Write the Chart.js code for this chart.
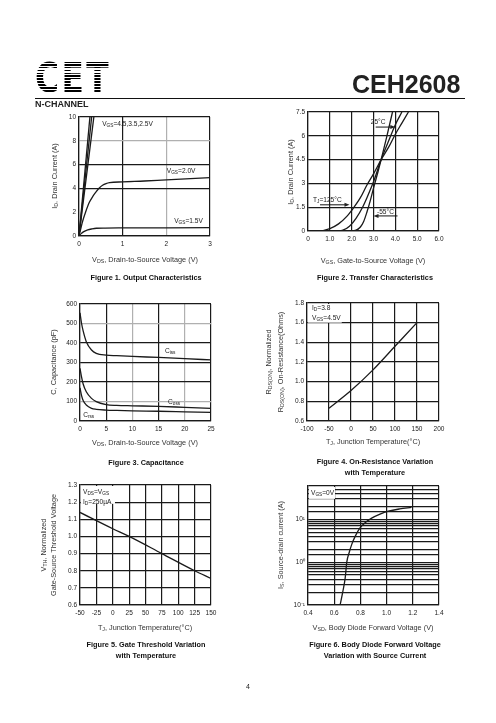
<!DOCTYPE html>
<html>
<head>
<meta charset="utf-8">
<script src="https://cdn.jsdelivr.net/npm/chart.js@4.4.1/dist/chart.umd.min.js"></script>
<style>
body{margin:0;width:496px;height:723px;background:#fff;position:relative;overflow:hidden;font-family:"Liberation Sans",Arial,sans-serif;color:#222;-webkit-font-smoothing:antialiased;filter:grayscale(1)}
.abs{position:absolute;white-space:nowrap}
canvas{position:absolute}
.t{font-size:7.3px;color:#333;transform:translate(-50%,-50%);text-align:center;line-height:9px}
.yt{transform:translate(-50%,-50%) rotate(-90deg)}
.cap{font-size:7.3px;font-weight:bold;transform:translateX(-50%);text-align:center;line-height:11px;color:#111}
sub{font-size:0.72em;vertical-align:-0.2em;line-height:0}
</style>
</head>
<body>

<div class="abs" id="logo" style="left:35px;top:58.3px;font-family:'DejaVu Sans',sans-serif;font-size:41px;font-weight:bold;line-height:1;transform:scaleX(0.8);transform-origin:left top;letter-spacing:3px;color:transparent;background:repeating-linear-gradient(to bottom,#000 0,#000 1.7px,transparent 1.7px,transparent 2.9px);-webkit-background-clip:text;background-clip:text">CET</div>
<div class="abs" style="left:352px;top:72px;font-size:25px;font-weight:bold;line-height:1;color:#222">CEH2608</div>
<div class="abs" style="left:35px;top:97.5px;width:430px;height:1.2px;background:#111"></div>
<div class="abs" style="left:35px;top:100px;font-size:9px;font-weight:bold;line-height:1">N-CHANNEL</div>

<canvas id="c1"></canvas>
<canvas id="c2"></canvas>
<canvas id="c3"></canvas>
<canvas id="c4"></canvas>
<canvas id="c5"></canvas>
<canvas id="c6"></canvas>

<!-- axis titles and captions -->
<div class="abs t yt" style="left:54px;top:176px">I<sub>D</sub>, Drain Current (A)</div>
<div class="abs t" style="left:145px;top:259px">V<sub>DS</sub>, Drain-to-Source Voltage (V)</div>
<div class="abs cap" style="left:146px;top:272px">Figure 1. Output Characteristics</div>

<div class="abs t yt" style="left:290px;top:172px">I<sub>D</sub>, Drain Current (A)</div>
<div class="abs t" style="left:373px;top:260px">V<sub>GS</sub>, Gate-to-Source Voltage (V)</div>
<div class="abs cap" style="left:375px;top:272px">Figure 2. Transfer Characteristics</div>

<div class="abs t yt" style="left:53px;top:362px">C, Capacitance (pF)</div>
<div class="abs t" style="left:145px;top:442px">V<sub>DS</sub>, Drain-to-Source Voltage (V)</div>
<div class="abs cap" style="left:146px;top:457px">Figure 3. Capacitance</div>

<div class="abs t yt" style="left:275px;top:362px;line-height:12px">R<sub>DS(ON)</sub>, Normalized<br>R<sub>DS(ON)</sub>, On-Resistance(Ohms)</div>
<div class="abs t" style="left:373px;top:441px">T<sub>J</sub>, Junction Temperature(°C)</div>
<div class="abs cap" style="left:375px;top:456px">Figure 4. On-Resistance Variation<br>with Temperature</div>

<div class="abs t yt" style="left:48.5px;top:545px;line-height:10px">V<sub>TH</sub>, Normalized<br>Gate-Source Threshold Voltage</div>
<div class="abs t" style="left:145px;top:627px">T<sub>J</sub>, Junction Temperature(°C)</div>
<div class="abs cap" style="left:146px;top:639px">Figure 5. Gate Threshold Variation<br>with Temperature</div>

<div class="abs t yt" style="left:280px;top:545px">I<sub>S</sub>, Source-drain current (A)</div>
<div class="abs t" style="left:373px;top:627px">V<sub>SD</sub>, Body Diode Forward Voltage (V)</div>
<div class="abs cap" style="left:375px;top:639px">Figure 6. Body Diode Forward Voltage<br>Variation with Source Current</div>

<div class="abs" style="left:248px;top:683px;font-size:7px;transform:translateX(-50%)">4</div>

<script>
// ---- Figure 1: output characteristics (VDS V / ID A)
const out45X = [0, 0.25], out45Y = [0, 10];
const out35X = [0, 0.29], out35Y = [0, 10];
const out25X = [0, 0.34], out25Y = [0, 10];
const out20X = [0, 0.04, 0.08, 0.15, 0.24, 0.32, 0.39, 0.47, 0.54, 0.62, 0.7, 1, 1.5, 2, 3];
const out20Y = [0, 0.6, 1.2, 2.0, 2.85, 3.35, 3.7, 4.05, 4.26, 4.4, 4.48, 4.55, 4.62, 4.72, 4.9];
const out15X = [0, 0.05, 0.1, 0.2, 0.3, 0.4, 0.6, 1, 2, 3];
const out15Y = [0, 0.2, 0.35, 0.52, 0.6, 0.65, 0.67, 0.68, 0.69, 0.7];

// ---- Figure 2: transfer characteristics (VGS V / ID A)
const tr125X = [0.6, 1.0, 1.4, 1.8, 2.0, 2.4, 2.7, 3.0, 3.35, 3.7, 4.0, 4.3, 4.6];
const tr125Y = [0, 0.15, 0.45, 0.95, 1.3, 2.1, 2.9, 3.6, 4.5, 5.3, 6.1, 6.8, 7.5];
const tr25X = [1.3, 1.6, 1.9, 2.2, 2.5, 2.7, 3.0, 3.35, 3.7, 4.0, 4.3];
const tr25Y = [0, 0.05, 0.3, 0.8, 1.5, 2.1, 3.1, 4.5, 5.7, 6.7, 7.5];
const trM55X = [1.9, 2.2, 2.4, 2.55, 2.7, 2.85, 3.0, 3.2, 3.35, 3.6, 3.87];
const trM55Y = [0, 0.05, 0.25, 0.6, 1.2, 1.9, 2.7, 3.7, 4.5, 5.9, 7.5];

// ---- Figure 3: capacitance (VDS V / pF)
const capX = [0, 0.3, 0.6, 1.2, 2.2, 3.1, 5, 7, 10, 15, 20, 25];
const cissY = [555, 500, 462, 407, 364, 347, 338, 335, 331, 326, 320, 313];
const cossY = [270, 225, 190, 150, 116, 99, 84, 80, 78, 75, 70, 65];
const crssY = [170, 130, 105, 82, 65, 60, 56, 54, 52, 50, 47, 44];

// ---- Figure 4: on-resistance vs temperature
const rdsT = [-50, 0, 50, 100, 150];
const rdsY = [0.73, 0.91, 1.12, 1.36, 1.6];

// ---- Figure 5: threshold vs temperature
const vthT = [-50, 0, 25, 75, 125, 150];
const vthY = [1.14, 1.045, 1.0, 0.9, 0.8, 0.755];

// ---- Figure 6: body diode (VSD V / IS A)
const diodeX = [0.645, 0.665, 0.684, 0.696, 0.715, 0.734, 0.76, 0.797, 0.84, 0.886, 0.95, 1.013, 1.1, 1.19];
const diodeY = [0.1, 0.2, 0.43, 1.0, 1.7, 2.6, 4.0, 6.3, 8.5, 10.7, 13.3, 15.5, 17.5, 19];

// labels drawn inside the plots, data coordinates
const notes1 = [
  {x: 0.53, y: 9.41, t: [['V'], ['GS', 1], ['=4.5,3.5,2.5V']]},
  {x: 2.01, y: 5.46, t: [['V'], ['GS', 1], ['=2.0V']]},
  {x: 2.18, y: 1.26, t: [['V'], ['GS', 1], ['=1.5V']]}
];
const notes2 = [
  {x: 3.21, y: 6.89, t: [['25°C']], align: 'center', arrow: [[3.1, 6.55], [4.0, 6.55]]},
  {x: 0.23, y: 1.97, t: [['T'], ['J', 1], ['=125°C']], arrow: [[0.55, 1.65], [1.9, 1.65]]},
  {x: 3.16, y: 1.21, t: [['-55°C']], arrow: [[4.1, 0.95], [3.0, 0.95]]}
];
const notes3 = [
  {x: 16.2, y: 359, t: [['C'], ['iss', 1]]},
  {x: 16.8, y: 97, t: [['C'], ['oss', 1]]},
  {x: 0.6, y: 31, t: [['C'], ['rss', 1]]}
];
const notes4 = [
  {x: -88.6, y: 1.75, t: [['I'], ['D', 1], ['=3.8']]},
  {x: -88.6, y: 1.647, t: [['V'], ['GS', 1], ['=4.5V']]}
];
const notes5 = [
  {x: -45.4, y: 1.26, t: [['V'], ['DS', 1], ['=V'], ['GS', 1]]},
  {x: -45.4, y: 1.2, t: [['I'], ['D', 1], ['=250µA']]}
];
const notes6 = [
  {x: 0.423, y: 40, t: [['V'], ['GS', 1], ['=0V']]}
];

const FONT = '"Liberation Sans", Arial, sans-serif';
const INK = '#1a1a1a';

function pts(xs, ys) { return xs.map((x, i) => ({x: x, y: ys[i]})); }

function drawRich(ctx, parts, x, y, size, align) {
  let w = 0;
  parts.forEach(p => {
    ctx.font = (p[1] ? size * 0.72 : size) + 'px ' + FONT;
    w += ctx.measureText(p[0]).width;
  });
  if (align === 'center') x -= w / 2;
  parts.forEach(p => {
    ctx.font = (p[1] ? size * 0.72 : size) + 'px ' + FONT;
    ctx.fillText(p[0], x, p[1] ? y + size * 0.22 : y);
    x += ctx.measureText(p[0]).width;
  });
}

const notesPlugin = {
  id: 'notes',
  beforeDatasetsDraw(chart, args, opts) {
    const {ctx, chartArea: a} = chart;
    const sx = chart.scales.x, sy = chart.scales.y;
    (opts.boxes || []).forEach(b => {
      const x2 = sx.getPixelForValue(b.x), y2 = sy.getPixelForValue(b.y);
      ctx.save();
      ctx.fillStyle = '#fff';
      ctx.fillRect(a.left + 1, a.top + 1, x2 - a.left - 1, y2 - a.top - 1);
      ctx.restore();
    });
  },
  afterDatasetsDraw(chart, args, opts) {
    const ctx = chart.ctx;
    const sx = chart.scales.x, sy = chart.scales.y;
    ctx.save();
    ctx.fillStyle = '#222';
    ctx.strokeStyle = '#111';
    ctx.textBaseline = 'middle';
    (opts.list || []).forEach(n => {
      drawRich(ctx, n.t, sx.getPixelForValue(n.x), sy.getPixelForValue(n.y), 6.6, n.align);
      if (n.arrow) {
        const x1 = sx.getPixelForValue(n.arrow[0][0]), y1 = sy.getPixelForValue(n.arrow[0][1]);
        const x2 = sx.getPixelForValue(n.arrow[1][0]), y2 = sy.getPixelForValue(n.arrow[1][1]);
        const d = x2 > x1 ? 1 : -1;
        ctx.lineWidth = 1;
        ctx.beginPath(); ctx.moveTo(x1, y1); ctx.lineTo(x2 - d * 4, y2); ctx.stroke();
        ctx.beginPath(); ctx.moveTo(x2, y2); ctx.lineTo(x2 - d * 5, y2 - 2); ctx.lineTo(x2 - d * 5, y2 + 2); ctx.closePath(); ctx.fill();
      }
    });
    ctx.restore();
  }
};

function line(data) {
  return {data: data, borderColor: INK, borderWidth: 1.3, pointRadius: 0, tension: 0.35, cubicInterpolationMode: 'monotone', fill: false};
}

function near(v, list) { return list.some(t => Math.abs(v - t) < 1e-6); }

function gridColor(gray, hide) {
  return ctx => {
    const v = ctx.tick ? ctx.tick.value : 0;
    if (hide && near(v, hide)) return 'rgba(0,0,0,0)';
    if (gray && near(v, gray)) return '#b0b0b0';
    return INK;
  };
}

// area = plot rectangle on the page
function makeChart(id, area, datasets, xs, ys, notes, boxes) {
  const cv = document.getElementById(id);
  const padL = 30, padT = 8, padR = 10, padB = 14;
  cv.style.left = (area[0] - padL) + 'px';
  cv.style.top = (area[1] - padT) + 'px';
  cv.width = area[2] + padL + padR;
  cv.height = area[3] + padT + padB;
  const tickFont = {family: FONT, size: 6.5};
  const xScale = Object.assign({
    type: 'linear',
    border: {display: true, color: INK, width: 1.2},
    grid: {drawTicks: false, lineWidth: 1.2, color: gridColor(xs.gray, xs.hide)},
    afterFit: s => { s.height = padB; }
  }, xs.base);
  xScale.ticks = Object.assign({font: tickFont, color: '#222', padding: 4, autoSkip: false, maxRotation: 0}, xs.ticks);
  const yScale = Object.assign({
    type: 'linear',
    border: {display: true, color: INK, width: 1.2},
    grid: {drawTicks: false, lineWidth: 1.2, color: gridColor(ys.gray, ys.hide)},
    afterFit: s => { s.width = padL; }
  }, ys.base);
  yScale.ticks = Object.assign({font: tickFont, color: '#222', padding: 3, autoSkip: false}, ys.ticks);
  return new Chart(cv, {
    type: 'line',
    data: {datasets: datasets},
    options: {
      responsive: false,
      animation: false,
      layout: {padding: {left: 0, top: padT, right: padR, bottom: 0}},
      plugins: {legend: {display: false}, tooltip: {enabled: false}, notes: {list: notes, boxes: boxes || []}},
      scales: {x: xScale, y: yScale}
    },
    plugins: [notesPlugin]
  });
}

const fix1 = v => (+v).toFixed(1);

makeChart('c1', [79, 117, 131, 119],
  [line(pts(out45X, out45Y)), line(pts(out35X, out35Y)), line(pts(out25X, out25Y)),
   line(pts(out20X, out20Y)), line(pts(out15X, out15Y))],
  {base: {min: 0, max: 3}, ticks: {stepSize: 1}, gray: [2]},
  {base: {min: 0, max: 10}, ticks: {stepSize: 2}, gray: [8], hide: [2]},
  notes1);

makeChart('c2', [308, 112, 131, 119],
  [line(pts(tr125X, tr125Y)), line(pts(tr25X, tr25Y)), line(pts(trM55X, trM55Y))],
  {base: {min: 0, max: 6}, ticks: {stepSize: 1, callback: v => v === 0 ? '0' : fix1(v)}},
  {base: {min: 0, max: 7.5}, ticks: {stepSize: 1.5}},
  notes2);

makeChart('c3', [80, 304, 131, 117],
  [line(pts(capX, cissY)), line(pts(capX, cossY)), line(pts(capX, crssY))],
  {base: {min: 0, max: 25}, ticks: {stepSize: 5}, gray: [10, 20]},
  {base: {min: 0, max: 600}, ticks: {stepSize: 100}, gray: [100, 500]},
  notes3);

makeChart('c4', [307, 303, 132, 118],
  [line(pts(rdsT, rdsY))],
  {base: {min: -100, max: 200}, ticks: {stepSize: 50}},
  {base: {min: 0.6, max: 1.8}, ticks: {stepSize: 0.2, callback: fix1}},
  notes4, [{x: -21, y: 1.6}]);

makeChart('c5', [80, 485, 131, 120],
  [line(pts(vthT, vthY))],
  {base: {min: -50, max: 150}, ticks: {stepSize: 25}},
  {base: {min: 0.6, max: 1.3}, ticks: {stepSize: 0.1, callback: fix1}},
  notes5, [{x: 3.4, y: 1.19}]);

const sup = {'0.1': '10⁻¹', '1': '10⁰', '10': '10¹'};
makeChart('c6', [308, 486, 131, 119],
  [line(pts(diodeX, diodeY))],
  {base: {min: 0.4, max: 1.4}, ticks: {stepSize: 0.2, callback: fix1}},
  {base: {type: 'logarithmic', min: 0.1, max: 60},
   ticks: {callback: v => sup[String(+(+v).toPrecision(3))] || ''}},
  notes6, [{x: 0.606, y: 30}]);
</script>
</body>
</html>
